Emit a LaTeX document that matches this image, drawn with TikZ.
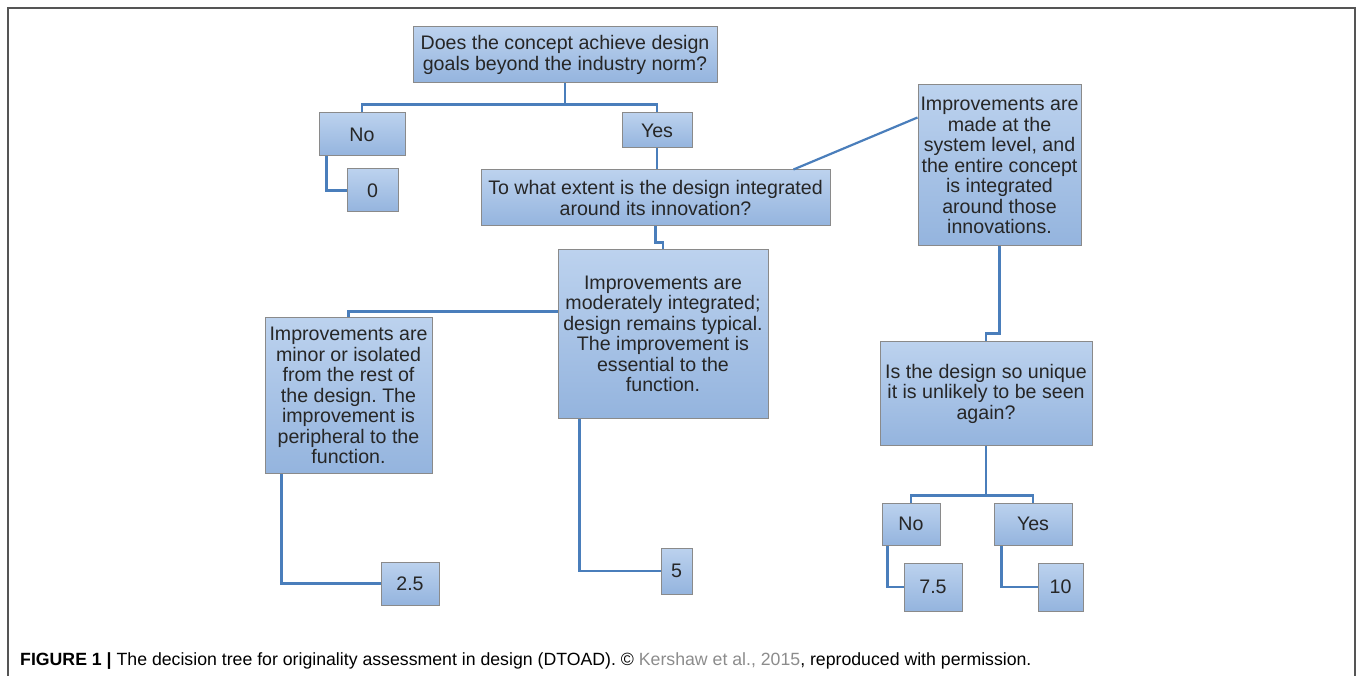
\documentclass[tikz,border=0pt]{standalone}
\usepackage{fontspec}
\setmainfont{Liberation Sans}
\usepackage{xcolor}
\usetikzlibrary{calc,positioning}
\definecolor{treeBlue}{HTML}{4A7EBB}
\definecolor{boxTop}{HTML}{BCD2EE}
\definecolor{boxBottom}{HTML}{94B4DE}
\definecolor{boxEdge}{HTML}{8A8A8A}
\definecolor{frameGrey}{HTML}{555555}
\definecolor{citeGrey}{HTML}{8C8C8C}
\frenchspacing

\begin{document}
\begin{tikzpicture}[x=1pt, y=-1pt,
        box/.style={draw=boxEdge, line width=1pt, top color=boxTop, bottom color=boxBottom,
                    inner sep=0pt, align=center, text=black!85,
                    font=\fontsize{19.6}{20.5}\selectfont},
        link/.style={draw=treeBlue, line width=2.2pt},
        frame/.style={draw=frameGrey, line width=1.6pt},
        caption/.style={anchor=west, font=\fontsize{17.7}{20}\selectfont, inner sep=0pt}
    ]
        \useasboundingbox (0,0) rectangle (1358,676);
        \draw[frame] (8,676) |- (1355,8) -- (1355,676);

        % first question
        \node[box, minimum width=304pt, minimum height=56pt] (q1) at (565,55)
            {Does the concept achieve design\\goals beyond the industry norm?};
        \node[box, minimum width=86pt, minimum height=43pt] (no1) at (362,134.5) {No};
        \node[box, minimum width=51pt, minimum height=43pt] (zero) at (372.5,190.5) {0};
        \node[box, minimum width=70pt, minimum height=35pt] (yes1) at (657,130.5) {Yes};

        % integration
        \node[box, minimum width=349pt, minimum height=56pt] (q2) at (655.5,198)
            {To what extent is the design integrated\\around its innovation?};
        \node[box, minimum width=163pt, minimum height=161pt] (sys) at (999.5,165.5)
            {Improvements are\\made at the\\system level, and\\the entire concept\\is integrated\\around those\\innovations.};
        \node[box, minimum width=210pt, minimum height=168pt] (mod) at (663,334)
            {Improvements are\\moderately integrated;\\design remains typical.\\The improvement is\\essential to the\\function.};
        \node[box, minimum width=167pt, minimum height=155pt] (minor) at (348.5,395.5)
            {Improvements are\\minor or isolated\\from the rest of\\the design. The\\improvement is\\peripheral to the\\function.};
        \node[box, minimum width=58pt, minimum height=43pt] (s25) at (410,583.5) {2.5};
        \node[box, minimum width=31pt, minimum height=46pt] (s5) at (676.5,571) {5};

        % uniqueness
        \node[box, minimum width=212pt, minimum height=103pt] (q3) at (986,393.5)
            {Is the design so unique\\it is unlikely to be seen\\again?};
        \node[box, minimum width=58pt, minimum height=42pt] (no2) at (911,524) {No};
        \node[box, minimum width=78pt, minimum height=42pt] (yes2) at (1033,524) {Yes};
        \node[box, minimum width=58pt, minimum height=48pt] (s75) at (933,587) {7.5};
        \node[box, minimum width=45pt, minimum height=48pt] (s10) at (1060.5,587) {10};

        \draw[link] (q1.south) -- ++(0,21) -| (no1.north);
        \draw[link] (q1.south) -- ++(0,21) -| (yes1.north);
        \draw[link] ($(no1.south west)+(8,0)$) |- (zero.west);
        \draw[link] (yes1.south) -- (yes1.south |- q2.north);
        \draw[link] (q2.south) -- ++(0,16) -| (mod.north);
        \draw[link] ($(mod.north west)+(0,62)$) -| (minor.north);
        \draw[link] ($(minor.south west)+(17,0)$) |- (s25.west);
        \draw[link] ($(mod.south west)+(22,0)$) |- (s5.west);
        \draw[link] ($(q2.north east)+(-37,0)$) -- ($(sys.north west)+(0,33)$);
        \draw[link] (sys.south) -- ++(0,87) -| (q3.north);
        \draw[link] (q3.south) -- ++(0,50) -| (no2.north);
        \draw[link] (q3.south) -- ++(0,50) -| (yes2.north);
        \draw[link] ($(no2.south west)+(6,0)$) |- (s75.west);
        \draw[link] ($(yes2.south west)+(8,0)$) |- (s10.west);

        \node[caption] (cap) at (20,661)
            {\textbf{FIGURE 1 |} The decision tree for originality assessment in design (DTOAD). \textcopyright{} {\color{citeGrey}Kershaw et al., 2015}, reproduced with permission.};
    \end{tikzpicture}
\end{document}
